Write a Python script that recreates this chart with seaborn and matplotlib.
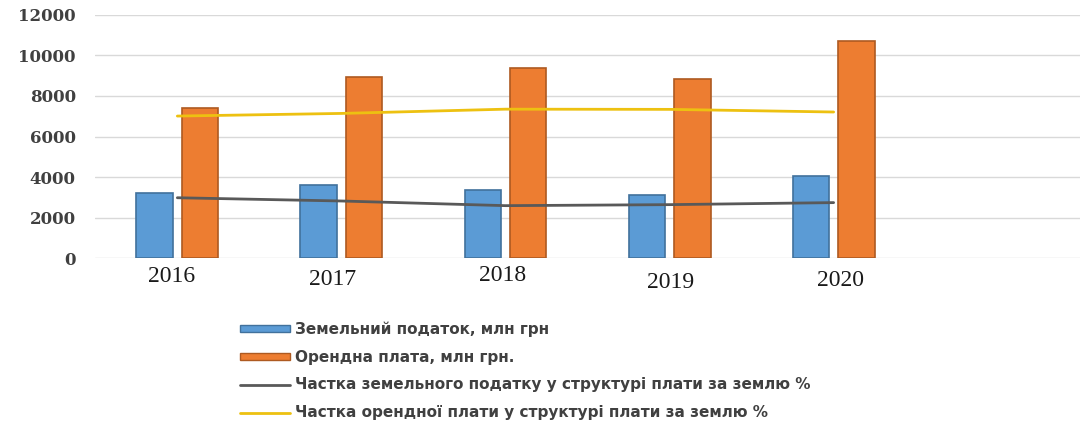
import pandas as pd
import matplotlib
matplotlib.use('Agg')
import matplotlib.pyplot as plt
import matplotlib.transforms as mtransforms
from matplotlib.patches import Patch
from matplotlib.lines import Line2D
import seaborn as sns

# data
years = ['2016', '2017', '2018', '2019', '2020']
land_tax = [3210, 3590, 3350, 3130, 4040]      # млн грн
rent = [7420, 8920, 9370, 8840, 10730]         # млн грн
tax_share = [29.8, 28.2, 25.9, 26.4, 27.4]     # %
rent_share = [70.1, 71.4, 73.5, 73.4, 72.1]    # %
yticks = [0, 2000, 4000, 6000, 8000, 10000, 12000]

lbl_tax = 'Земельний податок, млн грн'
lbl_rent = 'Орендна плата, млн грн.'
lbl_tax_share = 'Частка земельного податку у структурі плати за землю %'
lbl_rent_share = 'Частка орендної плати у структурі плати за землю %'

blue, blue_edge = '#5B9BD5', '#41719C'
orange, orange_edge = '#ED7D31', '#AE5A21'
gray_line = '#595959'
yellow_line = '#EDC111'

df = pd.DataFrame({
    'year': years * 2,
    'value': land_tax + rent,
    'series': [lbl_tax] * len(years) + [lbl_rent] * len(years),
})

sns.set_style('white')
fig = plt.figure(figsize=(10.83, 4.26), dpi=100)
ax = fig.add_axes([0.088, 0.394, 0.909, 0.571])

sns.barplot(data=df, x='year', y='value', hue='series', order=years,
            palette=[blue, orange], saturation=1, width=0.55, gap=0.185,
            linewidth=1.2, legend=False, ax=ax)
for bar in ax.containers[0]:
    bar.set_edgecolor(blue_edge)
for bar in ax.containers[1]:
    bar.set_edgecolor(orange_edge)

# share lines on a hidden secondary axis
ax2 = ax.twinx()
sns.lineplot(x=years, y=tax_share, color=gray_line, lw=2, ax=ax2)
sns.lineplot(x=years, y=rent_share, color=yellow_line, lw=2, ax=ax2)
ax2.set_ylim(0, 120)
ax2.set_yticks([])
ax2.set_ylabel('')
for s in ax2.spines.values():
    s.set_visible(False)

ax.set_ylim(0, 12000)
ax.set_yticks(yticks)
ax.set_xlim(-0.5, 5.5)
ax.set_xlabel('')
ax.set_ylabel('')
ax.yaxis.grid(True, color='#D9D9D9', lw=1)
ax.set_axisbelow(True)
for s in ax.spines.values():
    s.set_visible(False)

ax.tick_params(axis='y', length=0, pad=14)
ax.tick_params(axis='x', length=0, pad=7)
for t in ax.get_yticklabels():
    t.set_fontfamily('DejaVu Serif')
    t.set_fontweight('bold')
    t.set_fontsize(12)
    t.set_color('#404040')

# x labels in the original sit a bit unevenly
shifts = [(-6, 2), (-9, -1), (-3, 3), (1, -4), (7, -2)]
for t, (dx, dy) in zip(ax.get_xticklabels(), shifts):
    t.set_fontfamily('Liberation Serif')
    t.set_fontsize(17)
    t.set_color('#1a1a1a')
    t.set_transform(t.get_transform() +
                    mtransforms.ScaledTranslation(dx / 100, dy / 100, fig.dpi_scale_trans))

handles = [
    Patch(facecolor=blue, edgecolor=blue_edge),
    Patch(facecolor=orange, edgecolor=orange_edge),
    Line2D([], [], color=gray_line, lw=2),
    Line2D([], [], color=yellow_line, lw=2),
]
labels = [lbl_tax, lbl_rent, lbl_tax_share, lbl_rent_share]
leg = fig.legend(handles, labels, loc='upper left', bbox_to_anchor=(0.2216, 0.245),
                 frameon=False, prop=dict(family='DejaVu Sans', weight='bold', size=11),
                 handlelength=3.3, handleheight=0.35, handletextpad=0.33,
                 labelspacing=0.83, borderpad=0, borderaxespad=0)
for txt in leg.get_texts():
    txt.set_color('#404040')

fig.savefig('out.png', dpi=100)
